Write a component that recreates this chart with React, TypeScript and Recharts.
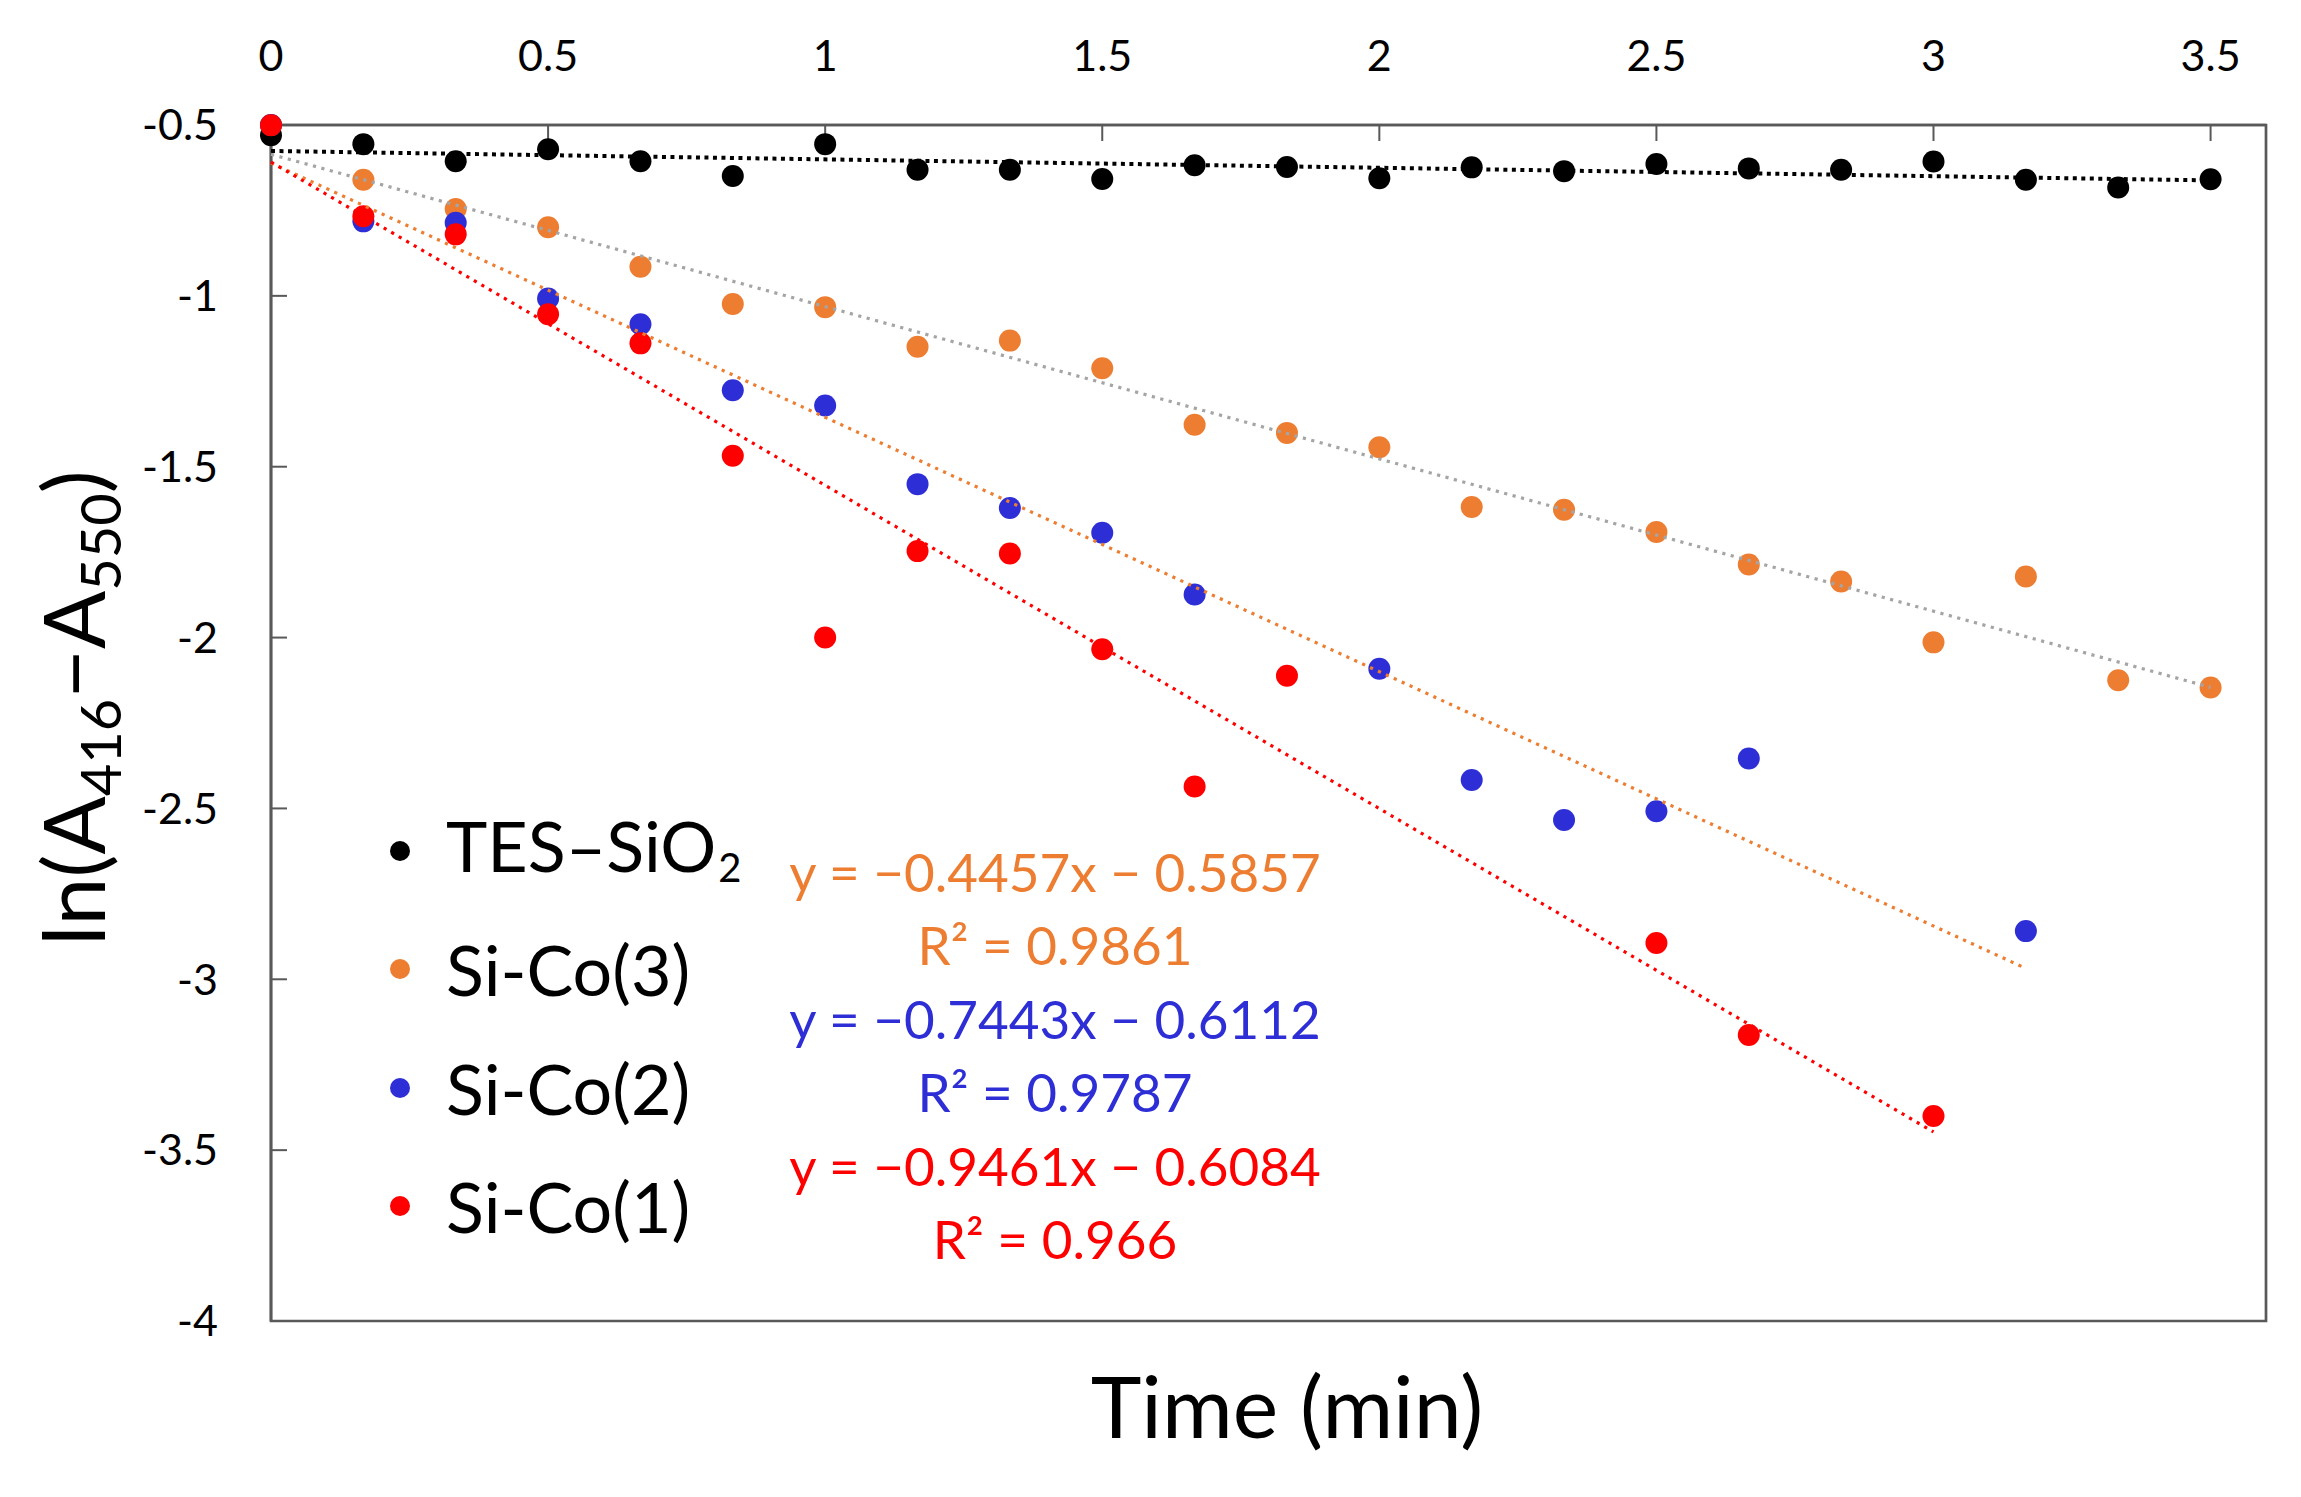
import React from 'react';
import { ScatterChart, Scatter, XAxis, YAxis, ReferenceArea, Legend } from 'recharts';

// time in minutes (10 s steps)
const timeMin = [
  0, 0.1667, 0.3333, 0.5, 0.6667, 0.8333, 1, 1.1667, 1.3333, 1.5, 1.6667,
  1.8333, 2, 2.1667, 2.3333, 2.5, 2.6667, 2.8333, 3, 3.1667, 3.3333, 3.5,
];

// ln(A416 - A550)
const tesSiO2 = [
  -0.53, -0.556, -0.606, -0.571, -0.606, -0.649, -0.556, -0.631, -0.631, -0.658, -0.618,
  -0.623, -0.656, -0.624, -0.635, -0.614, -0.627, -0.631, -0.607, -0.66, -0.683, -0.659,
];
const siCo3 = [
  -0.5, -0.66, -0.746, -0.799, -0.915, -1.024, -1.033, -1.149, -1.131, -1.212, -1.377,
  -1.401, -1.443, -1.618, -1.626, -1.691, -1.786, -1.836, -2.014, -1.821, -2.125, -2.146,
];
const siCo2 = [
  -0.5, -0.782, -0.786, -1.008, -1.083, -1.276, -1.321, -1.551, -1.621, -1.693, -1.874,
  null, -2.091, -2.417, -2.534, -2.508, -2.354, null, null, -2.859, null, null,
];
const siCo1 = [
  -0.501, -0.767, -0.82, -1.054, -1.139, -1.468, -2.0, -1.747, -1.754, -2.034, -2.436,
  -2.112, null, null, null, -2.894, -3.163, null, -3.4, null, null, null,
];

const seriesNames = ['TES–SiO', 'Si-Co(3)', 'Si-Co(2)', 'Si-Co(1)'];
const seriesSubs = ['2', '', '', ''];
const seriesValues = [tesSiO2, siCo3, siCo2, siCo1];
const seriesColors = ['#000000', '#ED7D31', '#2E2ED6', '#FF0000'];

// linear trendlines (slope, intercept, last x)
const fitSlopes = [-0.0246, -0.4457, -0.7443, -0.9461];
const fitIntercepts = [-0.576, -0.5857, -0.6112, -0.6084];
const fitEnds = [3.5, 3.5, 3.1667, 3.0];
const fitColors = ['#000000', '#A5A5A5', '#ED7D31', '#FF0000'];

const fitLabels = [
  'y = −0.4457x − 0.5857',
  'R² = 0.9861',
  'y = −0.7443x − 0.6112',
  'R² = 0.9787',
  'y = −0.9461x − 0.6084',
  'R² = 0.966',
];
const fitLabelColors = ['#ED7D31', '#ED7D31', '#2E2ED6', '#2E2ED6', '#FF0000', '#FF0000'];

const xTicks = [0, 0.5, 1, 1.5, 2, 2.5, 3, 3.5];
const yTicks = [-4, -3.5, -3, -2.5, -2, -1.5, -1, -0.5];

const FONT = 'Lato, "Open Sans", sans-serif';
const FRAME = '#595959';

const toPoints = (vals: (number | null)[]) =>
  timeMin.map((x, i) => ({ x, y: vals[i] })).filter((p) => p.y !== null);

const SeriesLegend = () => (
  <div style={{ fontFamily: FONT, color: '#000' }}>
    {seriesNames.map((name, i) => (
      <div key={name} style={{ display: 'flex', alignItems: 'center', height: 118.3 }}>
        <div
          style={{
            width: 20,
            height: 20,
            borderRadius: '50%',
            background: seriesColors[i],
            marginRight: 36,
          }}
        />
        <span style={{ fontSize: 70, lineHeight: '70px', whiteSpace: 'nowrap' }}>
          {name}
          {seriesSubs[i] && (
            <span style={{ fontSize: 40, position: 'relative', top: 10, marginLeft: 2 }}>{seriesSubs[i]}</span>
          )}
        </span>
      </div>
    ))}
  </div>
);

export default function App() {
  return (
    <div style={{ position: 'absolute', left: 0, top: 0, width: 2301, height: 1497, background: '#fff' }}>
      <ScatterChart width={2301} height={1497} margin={{ top: 45, right: 35, bottom: 176, left: 171 }}>
        <XAxis
          type="number"
          dataKey="x"
          orientation="top"
          domain={[0, 3.6]}
          ticks={xTicks}
          interval={0}
          height={80}
          axisLine={{ stroke: FRAME, strokeWidth: 2.7 }}
          tickLine={{ stroke: FRAME, strokeWidth: 2 }}
          tickSize={-16}
          tickMargin={70}
          tick={{ fill: '#000', fontSize: 43, fontFamily: FONT }}
        />
        <YAxis
          type="number"
          dataKey="y"
          domain={[-4, -0.5]}
          ticks={yTicks}
          interval={0}
          width={100}
          axisLine={{ stroke: FRAME, strokeWidth: 2.7 }}
          tickLine={{ stroke: FRAME, strokeWidth: 2 }}
          tickSize={-16}
          tickMargin={69}
          tick={{ fill: '#000', fontSize: 43, fontFamily: FONT }}
        />
        <ReferenceArea x1={0} x2={3.6} y1={-4} y2={-0.5} fill="none" stroke={FRAME} strokeWidth={2.7} />
        {seriesValues.map((vals, i) => (
          <Scatter
            key={seriesNames[i]}
            name={seriesNames[i]}
            data={toPoints(vals)}
            fill={seriesColors[i]}
            isAnimationActive={false}
            shape={(p: any) => <circle cx={p.cx} cy={p.cy} r={11} fill={seriesColors[i]} />}
          />
        ))}
        {fitSlopes.map((m, i) => (
          <Scatter
            key={`fit-${i}`}
            data={[
              { x: 0, y: fitIntercepts[i] },
              { x: fitEnds[i], y: m * fitEnds[i] + fitIntercepts[i] },
            ]}
            fill={fitColors[i]}
            legendType="none"
            isAnimationActive={false}
            line={{
              stroke: fitColors[i],
              strokeWidth: i === 0 ? 4 : 3.2,
              strokeDasharray: i === 0 ? '4 4.5' : '3.2 5.5',
            }}
            shape={() => <g />}
          />
        ))}
        <Legend
          layout="vertical"
          align="center"
          verticalAlign="middle"
          wrapperStyle={{ left: 390, top: 792, width: 'auto' }}
          content={() => <SeriesLegend />}
        />
      </ScatterChart>

      {fitLabels.map((txt, i) => (
        <div
          key={i}
          style={{
            position: 'absolute',
            left: 1055,
            top: 845 + i * 73.4,
            transform: 'translateX(-50%)',
            fontFamily: FONT,
            fontSize: 53,
            lineHeight: 1,
            color: fitLabelColors[i],
            whiteSpace: 'nowrap',
          }}
        >
          {txt}
        </div>
      ))}

      <div
        style={{
          position: 'absolute',
          left: 1287,
          top: 1362,
          transform: 'translateX(-50%)',
          fontFamily: FONT,
          fontSize: 86,
          lineHeight: 1,
          color: '#000',
          whiteSpace: 'nowrap',
        }}
      >
        Time (min)
      </div>

      <div
        style={{
          position: 'absolute',
          left: 72,
          top: 708,
          transform: 'translate(-50%, -50%) rotate(-90deg)',
          fontFamily: FONT,
          fontSize: 86,
          lineHeight: 1,
          color: '#000',
          whiteSpace: 'nowrap',
        }}
      >
        ln(A<span style={{ fontSize: 56, position: 'relative', top: 16 }}>416</span>−A
        <span style={{ fontSize: 56, position: 'relative', top: 16 }}>550</span>)
      </div>
    </div>
  );
}
